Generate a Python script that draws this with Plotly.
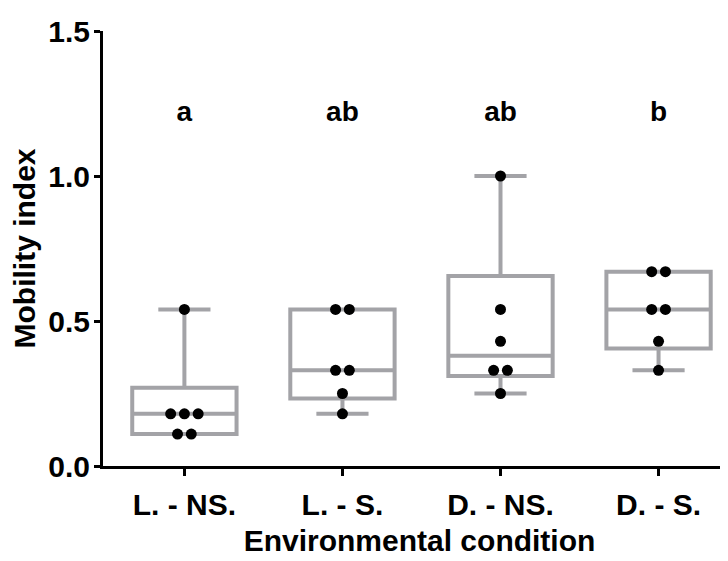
import numpy as np
import plotly.graph_objects as go

categories = ["L. - NS.", "L. - S.", "D. - NS.", "D. - S."]
l_ns = [0.11, 0.11, 0.18, 0.18, 0.18, 0.54]
l_s = [0.18, 0.25, 0.33, 0.33, 0.54, 0.54]
d_ns = [0.25, 0.33, 0.33, 0.43, 0.54, 1.00]
d_s = [0.33, 0.43, 0.54, 0.54, 0.67, 0.67]
groups = [l_ns, l_s, d_ns, d_s]
letters = ["a", "ab", "ab", "b"]
letter_y = 1.215
y_ticks = [0.0, 0.5, 1.0, 1.5]

GREY = "#a3a3a7"
FONT = "Liberation Sans, Arial, sans-serif"
SPACING = 0.087  # horizontal separation of tied points (category units)

fig = go.Figure()

for i, vals in enumerate(groups):
    v = np.array(vals)
    q1, med, q3 = np.quantile(v, [0.25, 0.5, 0.75], method="weibull")
    fig.add_trace(go.Box(
        x=[i], q1=[q1], median=[med], q3=[q3],
        lowerfence=[v.min()], upperfence=[v.max()],
        width=0.66, whiskerwidth=0.5,
        line=dict(color=GREY, width=4),
        fillcolor="rgba(255,255,255,0)",
        boxpoints=False, showlegend=False, hoverinfo="skip",
    ))

for i, vals in enumerate(groups):
    xs, ys = [], []
    uniq = sorted(set(vals))
    for u in uniq:
        m = vals.count(u)
        for k in range(m):
            xs.append(i + (k - (m - 1) / 2) * SPACING)
            ys.append(u)
    fig.add_trace(go.Scatter(
        x=xs, y=ys, mode="markers",
        marker=dict(color="black", size=11, line=dict(width=0)),
        showlegend=False, hoverinfo="skip",
    ))

fig.add_trace(go.Scatter(
    x=list(range(len(categories))), y=[letter_y] * len(categories),
    mode="text", text=letters, textposition="middle center",
    textfont=dict(family=FONT, size=28, color="black", weight="bold"),
    showlegend=False, hoverinfo="skip",
))

fig.update_layout(
    width=728, height=561,
    margin=dict(l=95, r=0, t=23, b=103),
    paper_bgcolor="white", plot_bgcolor="white",
    font=dict(family=FONT, size=30, color="black", weight="bold"),
    showlegend=False,
)
fig.update_xaxes(
    range=[-0.515, 3.49], tickvals=list(range(len(categories))), ticktext=categories,
    showgrid=False, zeroline=False, showline=True, linecolor="black", linewidth=3,
    ticks="outside", ticklen=7, tickwidth=2.5, tickcolor="black",
    ticklabelstandoff=3, automargin=False,
    title=dict(text="Environmental condition", standoff=10,
               font=dict(family=FONT, size=30, weight="bold")),
)
fig.update_yaxes(
    range=[0, 1.5], tickvals=y_ticks, tickformat=".1f",
    showgrid=False, zeroline=False, showline=True, linecolor="black", linewidth=3,
    ticks="outside", ticklen=6, tickwidth=2.5, tickcolor="black",
    ticklabelstandoff=-2, automargin=False,
    title=dict(text="Mobility index", standoff=13,
               font=dict(family=FONT, size=30, weight="bold")),
)

fig.write_html("out.html")
